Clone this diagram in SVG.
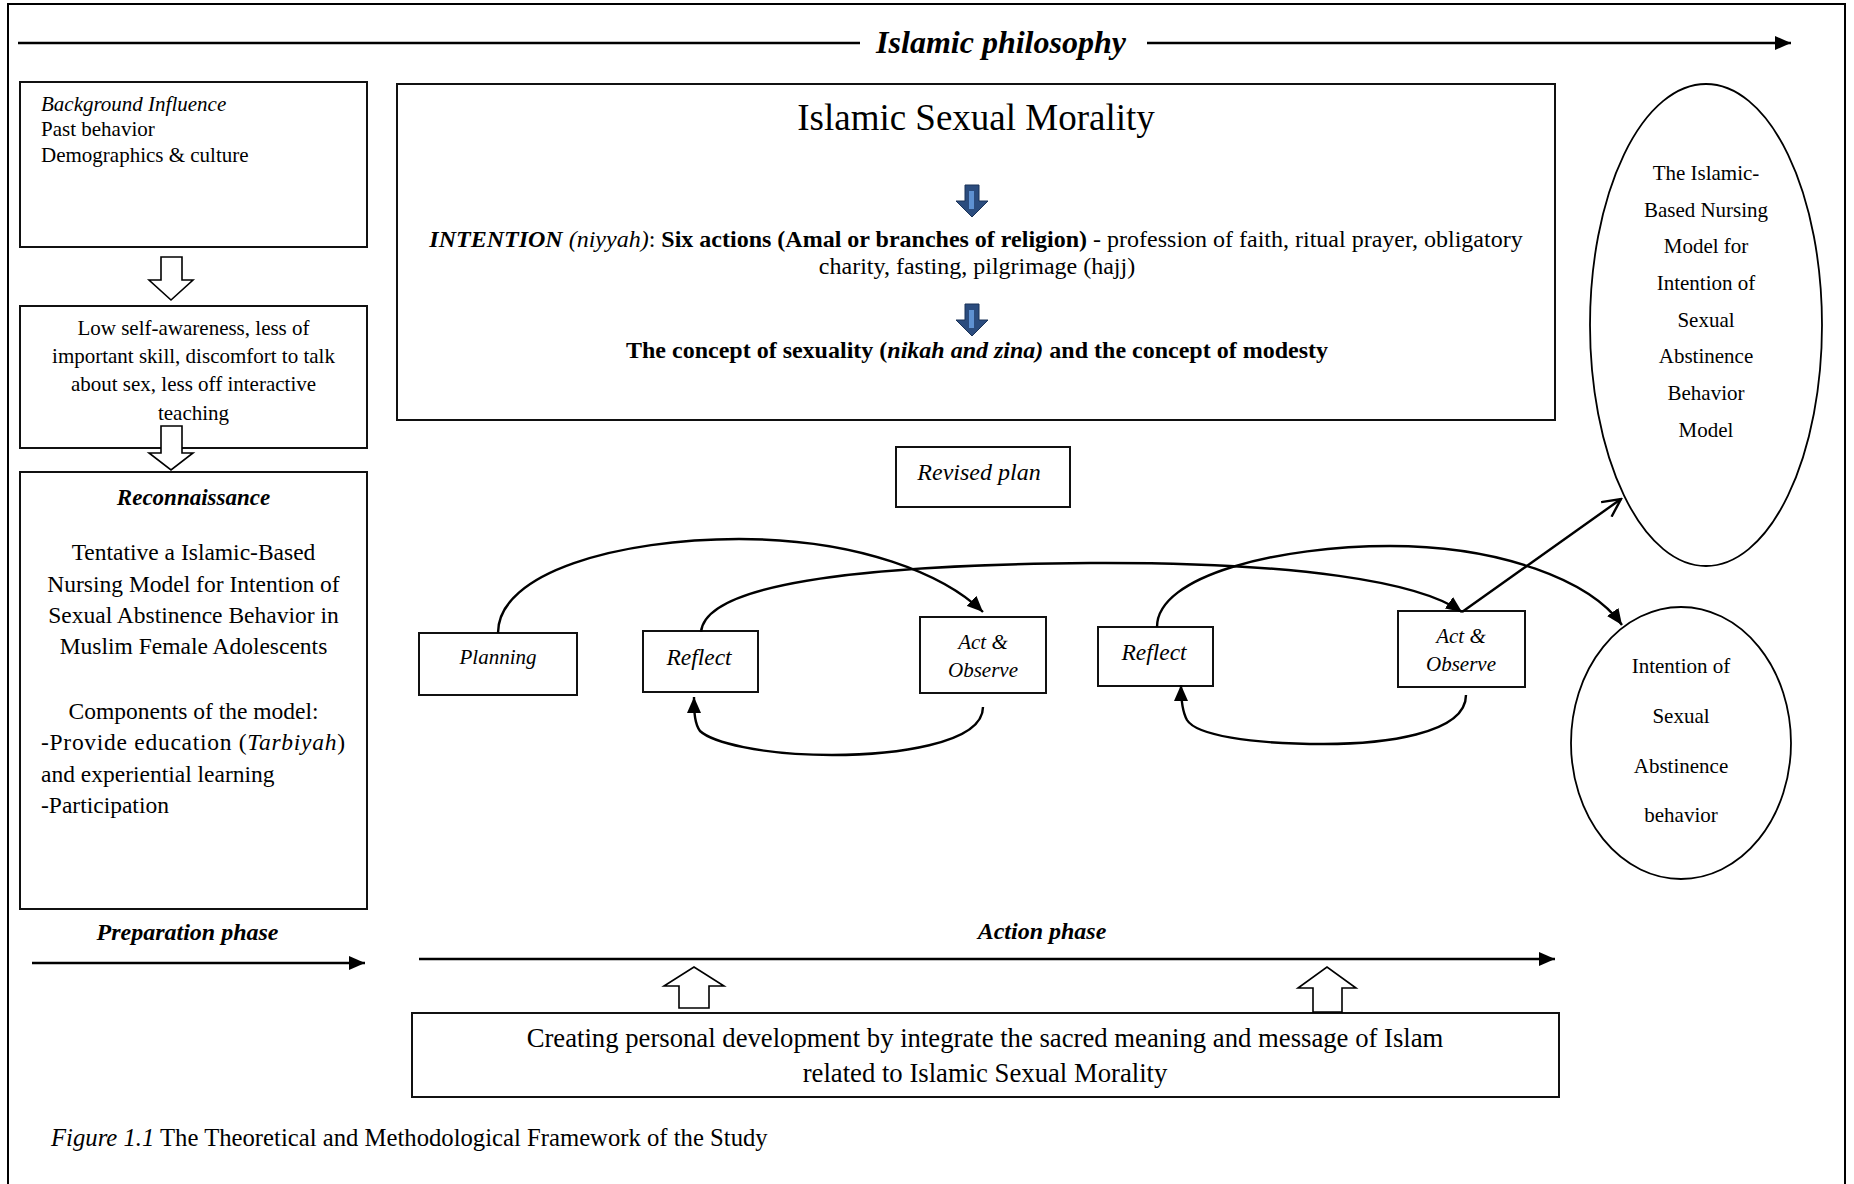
<svg xmlns="http://www.w3.org/2000/svg" width="1854" height="1184" viewBox="0 0 1854 1184">
  <style>
    text { font-family: "Liberation Serif", "Times New Roman", serif; fill: #000; }
    .box { fill: #fff; stroke: #111; stroke-width: 2; }
    .oval { fill: #fff; stroke: #000; stroke-width: 1.8; }
    .hollow { fill: #fff; stroke: #000; stroke-width: 1.6; stroke-linejoin: miter; }
    .link { fill: none; stroke: #000; stroke-width: 2.4; }
    .axis { fill: none; stroke: #000; stroke-width: 2.4; }
    .it { font-style: italic; }
    .b { font-weight: bold; }
    .mid { text-anchor: middle; }
  </style>
  <defs>
    <marker id="solid" markerUnits="userSpaceOnUse" markerWidth="17" markerHeight="14" refX="16" refY="7" orient="auto">
      <path d="M0,0 L16,7 L0,14 z" fill="#000"/>
    </marker>
    <marker id="open" markerUnits="userSpaceOnUse" markerWidth="22" markerHeight="20" refX="20" refY="10" orient="auto">
      <path d="M2,1 L20,10 L2,19" fill="none" stroke="#000" stroke-width="2.4"/>
    </marker>
    <path id="downBlue" d="M-7,0 H7 V16 H16 L0,32 L-16,16 H-7 Z"/>
  </defs>

  <!-- outer frame -->
  <path d="M8,1190 V4 H1845 V1190" fill="none" stroke="#000" stroke-width="2"/>

  <!-- Islamic philosophy axis -->
  <g id="philosophy">
    <line class="axis" x1="18" y1="43" x2="860" y2="43"/>
    <line class="axis" x1="1147" y1="43" x2="1791" y2="43" marker-end="url(#solid)"/>
    <text class="it b mid" x="1001" y="53" font-size="32">Islamic philosophy</text>
  </g>

  <!-- left column: preparation phase -->
  <g id="background">
    <rect class="box" x="20" y="82" width="347" height="165"/>
    <text font-size="21" x="41"><tspan class="it" y="111">Background Influence</tspan><tspan x="41" y="136">Past behavior</tspan><tspan x="41" y="162">Demographics &amp; culture</tspan></text>
  </g>

  <g id="barriers">
    <rect class="box" x="20" y="306" width="347" height="142"/>
    <text class="mid" font-size="21" x="193.5"><tspan x="193.5" y="335">Low self-awareness, less of</tspan><tspan x="193.5" y="363">important skill, discomfort to talk</tspan><tspan x="193.5" y="391">about sex, less off interactive</tspan><tspan x="193.5" y="420">teaching</tspan></text>
  </g>

  <g id="reconnaissance">
    <rect class="box" x="20" y="472" width="347" height="437"/>
    <text class="it b mid" x="193.5" y="505" font-size="23">Reconnaissance</text>
    <text class="mid" font-size="23.5"><tspan x="193.5" y="560">Tentative a Islamic-Based</tspan><tspan x="193.5" y="592">Nursing Model for Intention of</tspan><tspan x="193.5" y="623">Sexual Abstinence Behavior in</tspan><tspan x="193.5" y="654">Muslim Female Adolescents</tspan><tspan x="193.5" y="719">Components of the model:</tspan></text>
    <text font-size="23.5" x="41" y="750" textLength="304" lengthAdjust="spacing">-Provide education (<tspan class="it">Tarbiyah</tspan>)</text>
    <text font-size="23.5"><tspan x="41" y="782">and experiential learning</tspan><tspan x="41" y="813">-Participation</tspan></text>
  </g>

  <!-- hollow arrows between left boxes -->
  <g id="left-arrows">
    <path class="hollow" d="M161,257 H182 V280 H193 L171,300 L149,280 H161 Z"/>
    <path class="hollow" d="M161,426 H182 V453 H193 L171,470 L149,453 H161 Z"/>
  </g>

  <g id="preparation-phase">
    <text class="it b mid" x="187.5" y="940" font-size="24">Preparation phase</text>
    <line class="axis" x1="32" y1="963" x2="365" y2="963" marker-end="url(#solid)"/>
  </g>

  <!-- Islamic Sexual Morality panel -->
  <g id="morality">
    <rect class="box" x="397" y="84" width="1158" height="336"/>
    <text class="mid" x="976" y="130" font-size="37">Islamic Sexual Morality</text>
    <g fill="#2B4C7E" stroke="#1B3358" stroke-width="1">
      <use href="#downBlue" x="972" y="185"/>
      <use href="#downBlue" x="972" y="304"/>
    </g>
    <g fill="#5E91D2">
      <rect x="969" y="191" width="5" height="18"/>
      <rect x="969" y="310" width="5" height="18"/>
    </g>
    <text class="mid" x="976" y="247" font-size="24"><tspan class="it b">INTENTION</tspan><tspan class="it"> (niyyah)</tspan>: <tspan class="b">Six actions (Amal or branches of religion)</tspan> - profession of faith, ritual prayer, obligatory</text>
    <text class="mid" x="977" y="274" font-size="24">charity, fasting, pilgrimage (hajj)</text>
    <text class="mid b" x="977" y="358" font-size="24">The concept of sexuality (<tspan class="it">nikah and zina)</tspan> and the concept of modesty</text>
  </g>

  <!-- action research cycle -->
  <g id="revised-plan">
    <rect class="box" x="896" y="447" width="174" height="60"/>
    <text class="it mid" x="979" y="480" font-size="24">Revised plan</text>
  </g>
  <g id="planning">
    <rect class="box" x="419" y="633" width="158" height="62"/>
    <text class="it mid" x="498" y="664" font-size="21">Planning</text>
  </g>
  <g id="reflect-1">
    <rect class="box" x="643" y="631" width="115" height="61"/>
    <text class="it mid" x="699" y="665" font-size="23.5">Reflect</text>
  </g>
  <g id="act-observe-1">
    <rect class="box" x="920" y="617" width="126" height="76"/>
    <text class="it mid" font-size="21"><tspan x="983" y="649">Act &amp;</tspan><tspan x="983" y="677">Observe</tspan></text>
  </g>
  <g id="reflect-2">
    <rect class="box" x="1098" y="627" width="115" height="59"/>
    <text class="it mid" x="1154" y="660" font-size="23.5">Reflect</text>
  </g>
  <g id="act-observe-2">
    <rect class="box" x="1398" y="611" width="127" height="76"/>
    <text class="it mid" font-size="21"><tspan x="1461" y="643">Act &amp;</tspan><tspan x="1461" y="671">Observe</tspan></text>
  </g>

  <!-- outcome ellipses -->
  <g id="model">
    <ellipse class="oval" cx="1706" cy="325" rx="116" ry="241"/>
    <text class="mid" font-size="21"><tspan x="1706" y="180">The Islamic-</tspan><tspan x="1706" y="217">Based Nursing</tspan><tspan x="1706" y="253">Model for</tspan><tspan x="1706" y="290">Intention of</tspan><tspan x="1706" y="327">Sexual</tspan><tspan x="1706" y="363">Abstinence</tspan><tspan x="1706" y="400">Behavior</tspan><tspan x="1706" y="437">Model</tspan></text>
  </g>
  <g id="intention">
    <ellipse class="oval" cx="1681" cy="743" rx="110" ry="136"/>
    <text class="mid" font-size="21"><tspan x="1681" y="673">Intention of</tspan><tspan x="1681" y="723">Sexual</tspan><tspan x="1681" y="773">Abstinence</tspan><tspan x="1681" y="822">behavior</tspan></text>
  </g>

  <!-- connectors -->
  <g id="connectors">
    <path class="link" d="M498,633 C498,572 620,539 739,539 C860,539 945,575 983,612" marker-end="url(#solid)"/>
    <path class="link" d="M701,632 C705,585 850,565 1090,563 C1300,562 1420,582 1462,612" marker-end="url(#solid)"/>
    <path class="link" d="M983,707 C983,745 890,755 832,755 C760,755 712,742 700,731 C695,724 694,714 694,697" marker-end="url(#solid)"/>
    <path class="link" d="M1157,627 C1157,575 1280,546 1390,546 C1500,546 1590,580 1622,625" marker-end="url(#solid)"/>
    <path class="link" d="M1466,695 C1466,735 1380,744 1324,744 C1250,744 1196,735 1187,720 C1182,711 1181,700 1181,685" marker-end="url(#solid)"/>
    <line class="link" x1="1462" y1="612" x2="1621" y2="499" marker-end="url(#open)"/>
  </g>

  <!-- action phase -->
  <g id="action-phase">
    <text class="it b mid" x="1042" y="939" font-size="24">Action phase</text>
    <line class="axis" x1="419" y1="959" x2="1555" y2="959" marker-end="url(#solid)"/>
  </g>

  <g id="personal-development">
    <rect class="box" x="412" y="1013" width="1147" height="84"/>
    <text class="mid" font-size="26.7"><tspan x="985" y="1047">Creating personal development by integrate the sacred meaning and message of Islam</tspan><tspan x="985" y="1082">related to Islamic Sexual Morality</tspan></text>
  </g>
  <g id="up-arrows">
    <path class="hollow" d="M679,1008 V986 H664 L694,967 L724,986 H709 V1008 Z"/>
    <path class="hollow" d="M1313,1012 V988 H1298 L1327,967 L1356,988 H1342 V1012 Z"/>
  </g>

  <text x="51" y="1146" font-size="24.7"><tspan class="it">Figure 1.1</tspan> The Theoretical and Methodological Framework of the Study</text>
</svg>
